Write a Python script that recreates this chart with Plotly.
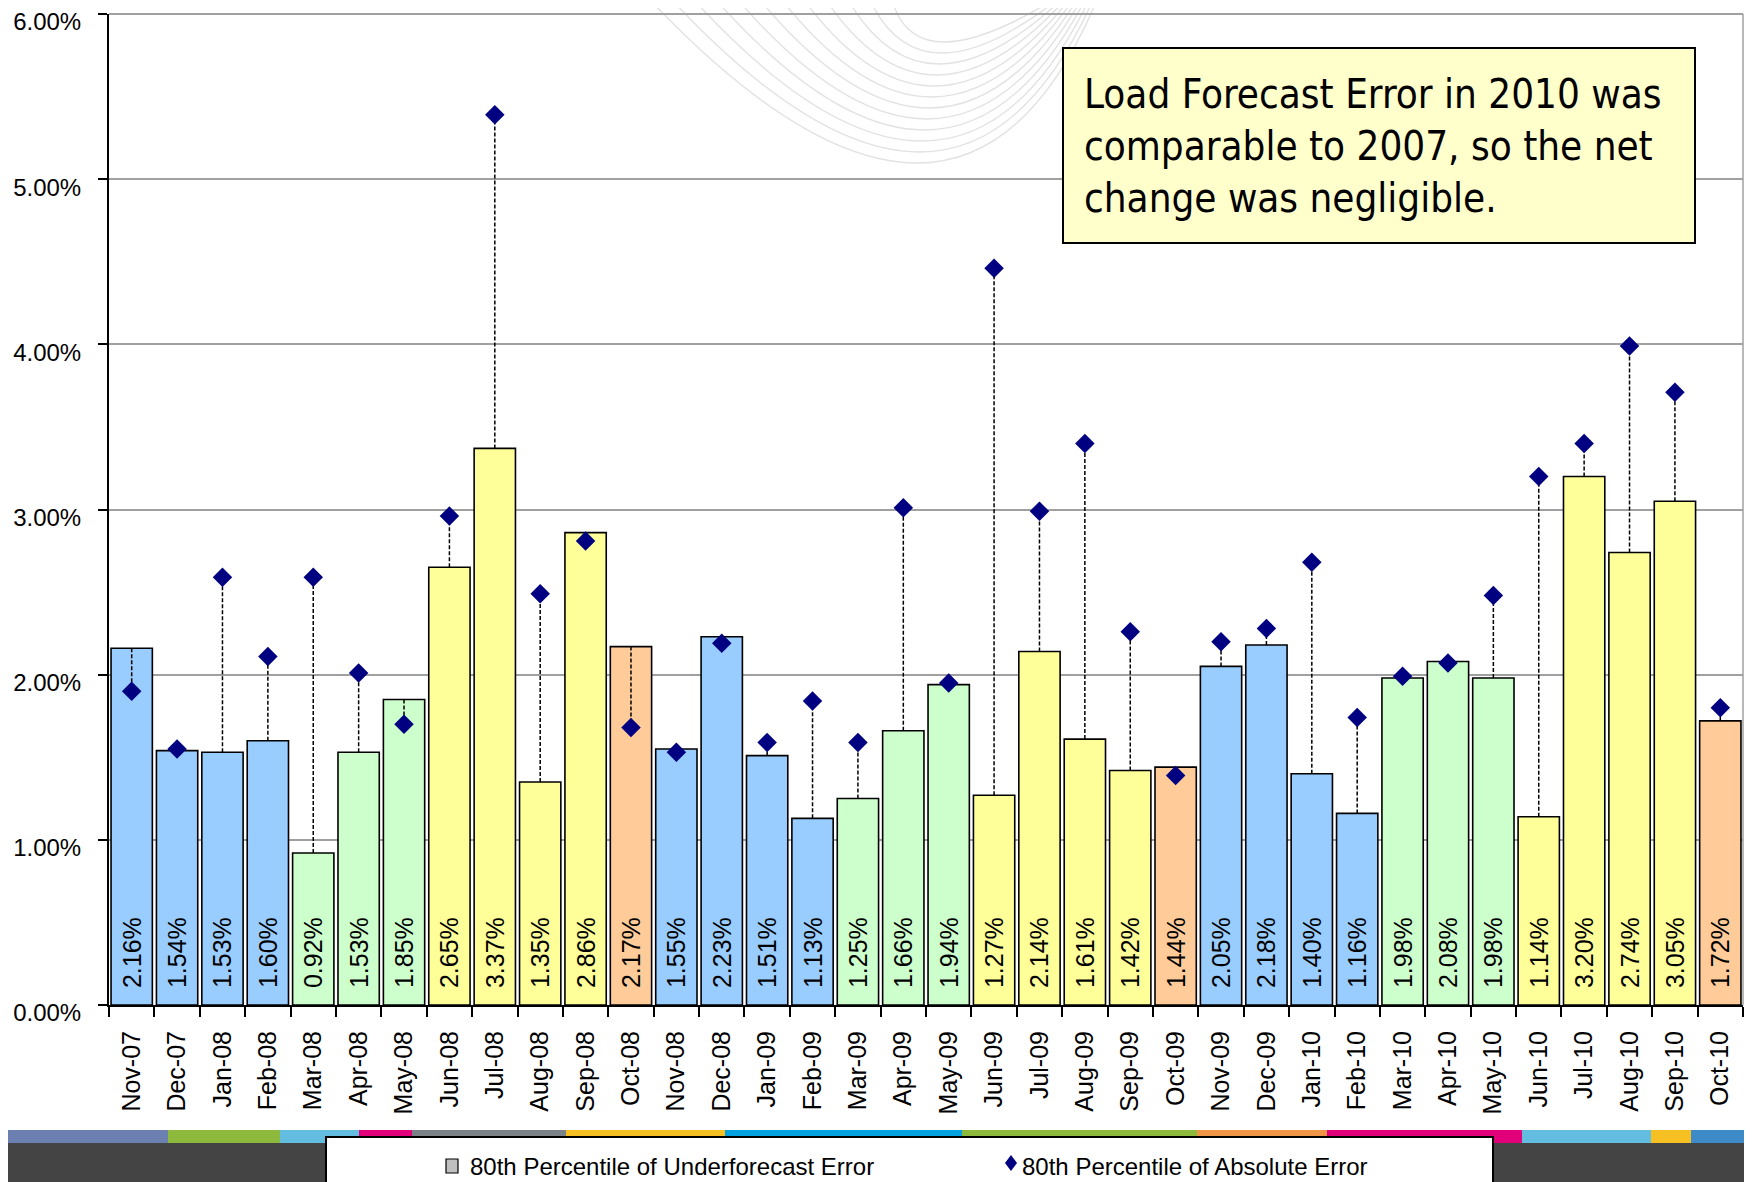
import plotly.graph_objects as go

# ---------------- data ----------------
months = ["Nov-07", "Dec-07", "Jan-08", "Feb-08", "Mar-08", "Apr-08", "May-08", "Jun-08",
          "Jul-08", "Aug-08", "Sep-08", "Oct-08", "Nov-08", "Dec-08", "Jan-09", "Feb-09",
          "Mar-09", "Apr-09", "May-09", "Jun-09", "Jul-09", "Aug-09", "Sep-09", "Oct-09",
          "Nov-09", "Dec-09", "Jan-10", "Feb-10", "Mar-10", "Apr-10", "May-10", "Jun-10",
          "Jul-10", "Aug-10", "Sep-10", "Oct-10"]

# 80th percentile of underforecast error (%), bar labels
underforecast = [2.16, 1.54, 1.53, 1.60, 0.92, 1.53, 1.85, 2.65, 3.37, 1.35, 2.86, 2.17,
                 1.55, 2.23, 1.51, 1.13, 1.25, 1.66, 1.94, 1.27, 2.14, 1.61, 1.42, 1.44,
                 2.05, 2.18, 1.40, 1.16, 1.98, 2.08, 1.98, 1.14, 3.20, 2.74, 3.05, 1.72]

# 80th percentile of absolute error (%), diamonds (estimated)
absolute = [1.90, 1.55, 2.59, 2.11, 2.59, 2.01, 1.70, 2.96, 5.39, 2.49, 2.81, 1.68,
            1.53, 2.19, 1.59, 1.84, 1.59, 3.01, 1.95, 4.46, 2.99, 3.40, 2.26, 1.39,
            2.20, 2.28, 2.68, 1.74, 1.99, 2.07, 2.48, 3.20, 3.40, 3.99, 3.71, 1.80]

y_ticks = [0, 1, 2, 3, 4, 5, 6]
y_ticktext = [f"{v:.2f}%" for v in y_ticks]

note_lines = ["Load Forecast Error in 2010 was",
              "comparable to 2007, so the net",
              "change was negligible."]

legend_under = "80th Percentile of Underforecast Error"
legend_abs = "80th Percentile of Absolute Error"

# ---------------- styles ----------------
season_colors = {"Nov": "#99CCFF", "Dec": "#99CCFF", "Jan": "#99CCFF", "Feb": "#99CCFF",
                 "Mar": "#CCFFCC", "Apr": "#CCFFCC", "May": "#CCFFCC",
                 "Jun": "#FFFF99", "Jul": "#FFFF99", "Aug": "#FFFF99", "Sep": "#FFFF99",
                 "Oct": "#FFCC99"}
bar_colors = [season_colors[m[:3]] for m in months]

FONT = "Liberation Sans, Arial, sans-serif"
NARROW = "Liberation Sans Narrow, Arial Narrow, DejaVu Sans Condensed, sans-serif"

# page body has an 8px margin: work in page pixels, convert to figure paper coords
OFF = 8
W, H = 1752 - OFF, 1182 - OFF
PAGE_L, PAGE_R, PAGE_T, PAGE_B = 109, 1743, 14, 1005
ML = PAGE_L - OFF
MT = PAGE_T - OFF
MR = W - (PAGE_R - OFF)
MB = H - (PAGE_B - OFF)
PW, PH = W - ML - MR, H - MT - MB


def px_x(x):
    return (x - OFF - ML) / PW


def px_y(y):
    return (PAGE_B - y) / PH


fig = go.Figure()

fig.add_trace(go.Bar(
    x=months, y=underforecast, name=legend_under,
    marker=dict(color=bar_colors, line=dict(color="black", width=1.6)),
    width=0.91,
    texttemplate="\u00a0\u00a0%{y:.2f}%",
    textposition="inside", insidetextanchor="start", textangle=-90,
    constraintext="none",
    insidetextfont=dict(family=FONT, size=25, color="black"),
    showlegend=False, hoverinfo="skip",
))

# dashed connectors from bar top to diamond
lx, ly = [], []
for m, b, a in zip(months, underforecast, absolute):
    lx += [m, m, None]
    ly += [b, a, None]
fig.add_trace(go.Scatter(
    x=lx, y=ly, mode="lines",
    line=dict(color="black", width=1.5, dash="4px,2px"),
    showlegend=False, hoverinfo="skip",
))

fig.add_trace(go.Scatter(
    x=months, y=absolute, mode="markers", name=legend_abs,
    marker=dict(symbol="diamond", size=15, color="#000080"),
    showlegend=False,
))

shapes = []
# faint background watermark curves
for k in range(12):
    x0, x1 = 650 + k * 22, 1097 - k * 4
    ymin = 163 - k * 11
    cx, cy = 960 - k * 4, 2 * ymin
    shapes.append(dict(type="path", xref="paper", yref="paper", layer="below",
                       path=f"M {px_x(x0)},{px_y(0)} Q {px_x(cx)},{px_y(cy)} {px_x(x1)},{px_y(0)}",
                       line=dict(color="#E2E2E2", width=1.4)))

# top and right borders of plot
shapes.append(dict(type="line", xref="paper", yref="paper", x0=0, x1=1, y0=1, y1=1,
                   line=dict(color="#A0A0A0", width=2)))
shapes.append(dict(type="line", xref="paper", yref="paper", x0=1, x1=1, y0=0, y1=1,
                   line=dict(color="#A0A0A0", width=1.5)))

# bottom colored stripe & dark band (slide decoration)
stripe = [(0, 168, "#6B7FB0"), (168, 280, "#8DBA3D"), (280, 359, "#63BDE0"),
          (359, 412, "#E2007A"), (412, 566, "#7B8389"), (566, 725, "#F6BF22"),
          (725, 962, "#00A3E0"), (962, 1197, "#8DBA3D"), (1197, 1327, "#EE9646"),
          (1327, 1522, "#E2007A"), (1522, 1651, "#63BDE0"), (1651, 1691, "#F6BF22"),
          (1691, 1760, "#3C8BC8")]
for x0, x1, c in stripe:
    shapes.append(dict(type="rect", xref="paper", yref="paper",
                       x0=px_x(x0), x1=px_x(x1), y0=px_y(1130), y1=px_y(1143),
                       fillcolor=c, line=dict(width=0), layer="above"))
shapes.append(dict(type="rect", xref="paper", yref="paper",
                   x0=px_x(0), x1=px_x(1760), y0=px_y(1143), y1=px_y(1190),
                   fillcolor="#444444", line=dict(width=0), layer="above"))
# legend box
shapes.append(dict(type="rect", xref="paper", yref="paper",
                   x0=px_x(326), x1=px_x(1493), y0=px_y(1137), y1=px_y(1190),
                   fillcolor="white", line=dict(color="black", width=2), layer="above"))
# legend swatch: grey square
shapes.append(dict(type="rect", xref="paper", yref="paper",
                   x0=px_x(446), x1=px_x(458), y0=px_y(1173), y1=px_y(1159),
                   fillcolor="#C0C0C0", line=dict(color="black", width=1.2), layer="above"))
# legend swatch: navy diamond
dx, dy = 1011, 1163
shapes.append(dict(type="path", xref="paper", yref="paper",
                   path=(f"M {px_x(dx)},{px_y(dy - 8)} L {px_x(dx + 6)},{px_y(dy)} "
                         f"L {px_x(dx)},{px_y(dy + 8)} L {px_x(dx - 6)},{px_y(dy)} Z"),
                   fillcolor="#000080", line=dict(width=0), layer="above"))
# note box
shapes.append(dict(type="rect", xref="paper", yref="paper",
                   x0=px_x(1063), x1=px_x(1695), y0=px_y(243), y1=px_y(48),
                   fillcolor="#FFFFCC", line=dict(color="black", width=2), layer="above"))

annotations = [
    dict(xref="paper", yref="paper", x=px_x(1082), y=px_y(146),
         xanchor="left", yanchor="middle", align="left", showarrow=False,
         text="<br>".join(note_lines),
         font=dict(family=NARROW, size=40, color="black")),
    dict(xref="paper", yref="paper", x=px_x(468), y=px_y(1166),
         xanchor="left", yanchor="middle", showarrow=False, text=legend_under,
         font=dict(family=FONT, size=24, color="black")),
    dict(xref="paper", yref="paper", x=px_x(1020), y=px_y(1166),
         xanchor="left", yanchor="middle", showarrow=False, text=legend_abs,
         font=dict(family=FONT, size=24, color="black")),
]

fig.update_layout(
    width=W, height=H,
    margin=dict(l=ML, r=MR, t=MT, b=MB, autoexpand=False),
    paper_bgcolor="white", plot_bgcolor="white",
    bargap=0.09, showlegend=False,
    shapes=shapes, annotations=annotations,
    font=dict(family=FONT, color="black"),
    xaxis=dict(
        type="category", tickangle=-90, tickfont=dict(family=FONT, size=25, color="black"),
        showline=True, linecolor="black", linewidth=2,
        ticks="outside", tickson="boundaries", ticklen=10, tickwidth=2, tickcolor="black",
        ticklabelstandoff=14, showgrid=False, range=[-0.5, len(months) - 0.5],
        automargin=False,
    ),
    yaxis=dict(
        range=[0, 6], tickmode="array", tickvals=y_ticks, ticktext=y_ticktext,
        tickfont=dict(family=FONT, size=24, color="black"),
        showline=True, linecolor="black", linewidth=2,
        ticks="outside", ticklen=9, tickwidth=2, tickcolor="black",
        showgrid=True, gridcolor="#A0A0A0", gridwidth=1.5, zeroline=False,
        ticklabelstandoff=12, automargin=False, ticklabeloverflow="allow",
        ticklabelshift=8,
    ),
)

fig.write_html("out.html")
